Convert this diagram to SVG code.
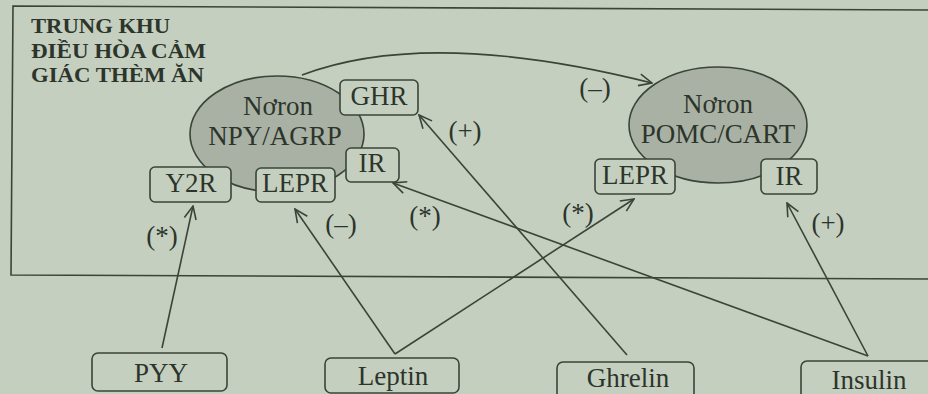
<svg xmlns="http://www.w3.org/2000/svg" width="928" height="394" viewBox="0 0 928 394">
  <style>
    .bg { fill: #c5cfbf; }
    .frame { fill: none; stroke: #3a4438; stroke-width: 1.6; }
    .cell { fill: #a9b1a4; stroke: #3a4438; stroke-width: 1.6; }
    .box { fill: #c5cfbf; stroke: #3a4438; stroke-width: 1.6; }
    .link { fill: none; stroke: #3a4438; stroke-width: 1.6; }
    text { font-family: "Liberation Serif", "Times New Roman", serif; fill: #2c352b; }
    .lbl { font-size: 27px; text-anchor: middle; }
    .sign { font-size: 27px; text-anchor: middle; }
    .title { font-size: 21px; font-weight: bold; }
  </style>
  <defs>
    <marker id="open-arrow" viewBox="-15 -8 16 16" refX="0" refY="0" markerWidth="16" markerHeight="16" markerUnits="userSpaceOnUse" orient="auto">
      <path d="M-13,-6 L0,0 L-13,6" fill="none" stroke="#3a4438" stroke-width="1.6"/>
    </marker>
  </defs>

  <rect class="bg" x="0" y="0" width="928" height="394"/>

  <!-- hypothalamic frame, open to the right -->
  <path id="frame" class="frame" d="M940,10 L13,6 L11,275 L940,279"/>

  <g id="title">
    <text class="title" x="31" y="33" textLength="139" lengthAdjust="spacingAndGlyphs">TRUNG KHU</text>
    <text class="title" x="31" y="58" textLength="175" lengthAdjust="spacingAndGlyphs">ĐIỀU HÒA CẢM</text>
    <text class="title" x="31" y="82" textLength="173" lengthAdjust="spacingAndGlyphs">GIÁC THÈM ĂN</text>
  </g>

  <!-- NPY/AGRP neuron with its receptors -->
  <g id="npy-agrp">
    <ellipse class="cell" cx="277" cy="134" rx="87" ry="58"/>
    <text class="lbl" x="278" y="115">Nơron</text>
    <text class="lbl" x="275" y="145">NPY/AGRP</text>
  </g>
  <g id="ghr">
    <rect class="box" x="340" y="80" width="78" height="35" rx="5"/>
    <text class="lbl" x="379" y="105">GHR</text>
  </g>
  <g id="y2r">
    <rect class="box" x="150" y="167" width="81" height="35" rx="5"/>
    <text class="lbl" x="191" y="192">Y2R</text>
  </g>
  <g id="lepr-npy">
    <rect class="box" x="256" y="168" width="79" height="34" rx="5"/>
    <text class="lbl" x="295" y="192">LEPR</text>
  </g>
  <g id="ir-npy">
    <rect class="box" x="346" y="148" width="53" height="34" rx="5"/>
    <text class="lbl" x="372" y="172">IR</text>
  </g>

  <!-- POMC/CART neuron with its receptors -->
  <g id="pomc-cart">
    <ellipse class="cell" cx="718" cy="125" rx="89" ry="58"/>
    <text class="lbl" x="718" y="113">Nơron</text>
    <text class="lbl" x="718" y="143">POMC/CART</text>
  </g>
  <g id="lepr-pomc">
    <rect class="box" x="595" y="159" width="80" height="35" rx="5"/>
    <text class="lbl" x="635" y="184">LEPR</text>
  </g>
  <g id="ir-pomc">
    <rect class="box" x="761" y="159" width="56" height="35" rx="5"/>
    <text class="lbl" x="789" y="185">IR</text>
  </g>

  <!-- peripheral hormones -->
  <g id="pyy">
    <rect class="box" x="92" y="353" width="135" height="38" rx="6"/>
    <text class="lbl" x="161" y="382">PYY</text>
  </g>
  <g id="leptin">
    <rect class="box" x="325" y="358" width="134" height="35" rx="6"/>
    <text class="lbl" x="393" y="385">Leptin</text>
  </g>
  <g id="ghrelin">
    <rect class="box" x="557" y="362" width="137" height="40" rx="6"/>
    <text class="lbl" x="628" y="387">Ghrelin</text>
  </g>
  <g id="insulin">
    <rect class="box" x="801" y="361" width="140" height="40" rx="6"/>
    <text class="lbl" x="869" y="389">Insulin</text>
  </g>

  <!-- signalling connectors -->
  <g id="connectors">
    <path class="link" d="M302,75 Q429,27 652,83" marker-end="url(#open-arrow)"/>
    <path class="link" d="M162,348 L193,206" marker-end="url(#open-arrow)"/>
    <path class="link" d="M395,354 L295,209" marker-end="url(#open-arrow)"/>
    <path class="link" d="M395,354 L634,199" marker-end="url(#open-arrow)"/>
    <path class="link" d="M627,355 L419,115" marker-end="url(#open-arrow)"/>
    <path class="link" d="M868,356 L393,183" marker-end="url(#open-arrow)"/>
    <path class="link" d="M868,356 L787,203" marker-end="url(#open-arrow)"/>
  </g>

  <g id="effect-labels">
    <text class="sign" x="595" y="97">(–)</text>
    <text class="sign" x="465" y="140">(+)</text>
    <text class="sign" x="162" y="245">(*)</text>
    <text class="sign" x="341" y="233">(–)</text>
    <text class="sign" x="425" y="225">(*)</text>
    <text class="sign" x="578" y="222">(*)</text>
    <text class="sign" x="828" y="232">(+)</text>
  </g>
</svg>
